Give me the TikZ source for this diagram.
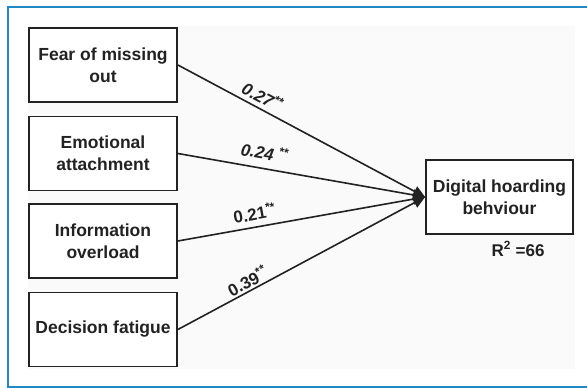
\documentclass[tikz,border=0pt]{standalone}
\usepackage{fontspec}
\setmainfont{Liberation Sans}
\usetikzlibrary{arrows.meta}
\definecolor{framebl}{RGB}{33,137,196}
\definecolor{ink}{RGB}{34,34,34}
\tikzset{
  varbox/.style  = {draw=ink, line width=1.8pt, fill=white, text=ink, align=center,
                    minimum width=148pt, minimum height=74pt, inner sep=2pt,
                    font=\fontsize{17.5}{22}\selectfont\bfseries},
  patharr/.style = {-{Triangle[length=12pt,width=11pt]}, ink, line width=1.6pt},
  coef/.style    = {sloped, above, inner sep=1pt, text=ink,
                    font=\fontsize{17}{20}\selectfont\bfseries}
}
\begin{document}
\begin{tikzpicture}[x=1pt,y=1pt]
  \useasboundingbox (0,0) rectangle (587,388);
  \fill[gray!4] (28,19) rectangle (575,362);
  \draw[framebl,line width=2pt] (587,381) -| (8,1) -- (587,1);
  \node[varbox] (fomo) at (103,323)   {Fear of missing\\out};
  \node[varbox] (emo)  at (103,234.5) {Emotional\\attachment};
  \node[varbox] (info) at (103,147)   {Information\\overload};
  \node[varbox] (dec)  at (103,58.5)  {Decision fatigue};
  \node[varbox,minimum width=147pt] (dhb) at (499.5,191) {Digital hoarding\\behviour};
  \node[text=ink,inner sep=0pt,font=\fontsize{17}{20}\selectfont\bfseries] (rsq)
        at (518,139) {R\textsuperscript{2} =66};
  \draw[patharr] (fomo.east) -- node[coef,pos=.32,above=3pt]
        {\itshape 0.27\textsuperscript{**}} (dhb.west);
  \draw[patharr] (emo.east)  -- node[coef,pos=.34,above=7pt]
        {\itshape 0.24 \textsuperscript{**}} (dhb.west);
  \draw[patharr] (info.east) -- node[coef,pos=.32,above=5pt]
        {0.21\textsuperscript{**}} (dhb.west);
  \draw[patharr] (dec.east)  -- node[coef,pos=.30,above=1pt]
        {0.39\textsuperscript{**}} (dhb.west);
\end{tikzpicture}
\end{document}
